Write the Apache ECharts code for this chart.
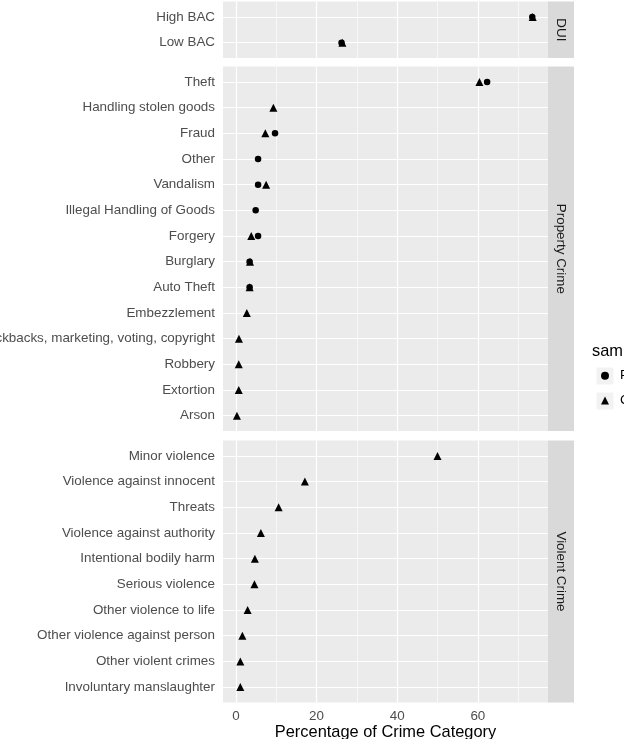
<!DOCTYPE html>
<html>
<head>
<meta charset="utf-8">
<script src="https://cdn.jsdelivr.net/npm/echarts@6/dist/echarts.min.js"></script>
<style>
  html, body { margin: 0; padding: 0; background: #fff; }
  #chart { width: 624px; height: 739px; }
</style>
</head>
<body>
<div id="chart"></div>
<script>
// categories per facet (top to bottom)
const duiCats = ['High BAC', 'Low BAC'];
const propCats = ['Theft', 'Handling stolen goods', 'Fraud', 'Other', 'Vandalism',
  'Illegal Handling of Goods', 'Forgery', 'Burglary', 'Auto Theft', 'Embezzlement',
  'Kickbacks, marketing, voting, copyright', 'Robbery', 'Extortion', 'Arson'];
const violCats = ['Minor violence', 'Violence against innocent', 'Threats',
  'Violence against authority', 'Intentional bodily harm', 'Serious violence',
  'Other violence to life', 'Other violence against person', 'Other violent crimes',
  'Involuntary manslaughter'];

// percentages, null = no point
const duiCircle = [73.5, 26.2];
const duiTriangle = [73.6, 26.4];
const propCircle = [62.3, null, 9.7, 5.5, 5.5, 4.9, 5.5, 3.4, 3.4, null, null, null, null, null];
const propTriangle = [60.4, 9.3, 7.3, null, 7.5, null, 3.8, 3.5, 3.4, 2.7, 0.75, 0.7, 0.7, 0.25];
const violTriangle = [50.0, 17.1, 10.6, 6.2, 4.7, 4.6, 2.9, 1.6, 1.1, 1.1];

const xTicks = [0, 20, 40, 60];
const xMinor = [10, 30, 50, 70];
const seriesNames = ['Police', 'Court'];
const facetNames = ['DUI', 'Property Crime', 'Violent Crime'];

const FONT = '"Liberation Sans", Arial, Helvetica, sans-serif';
const FS = 13.4;
const PANEL_L = 223, PANEL_W = 325, STRIP_W = 26;
const panels = [
  { top: 1.6, height: 56.5, cats: duiCats, circle: duiCircle, tri: duiTriangle },
  { top: 66.6, height: 364.5, cats: propCats, circle: propCircle, tri: propTriangle },
  { top: 440.5, height: 262, cats: violCats, circle: null, tri: violTriangle }
];

function toPoints(vals) {
  const out = [];
  if (!vals) return out;
  vals.forEach((v, i) => { if (v != null) out.push([v, i]); });
  return out;
}

const grid = [], xAxis = [], yAxis = [], series = [], graphic = [];

panels.forEach((p, k) => {
  const last = k === panels.length - 1;
  const idx = p.cats.map((c, i) => i);
  grid.push({
    left: PANEL_L, width: PANEL_W, top: p.top, height: p.height,
    containLabel: false, outerBoundsMode: 'none',
    show: true, backgroundColor: '#ebebeb', borderWidth: 0
  });
  xAxis.push({
    type: 'value', gridIndex: k, min: -3.2, max: 77.4,
    axisLine: { show: false },
    splitLine: { show: false },
    axisTick: { show: last, length: 4, lineStyle: { color: '#333', width: 1 }, customValues: xTicks },
    axisLabel: { show: last, margin: 7, color: '#4d4d4d', fontSize: FS, fontFamily: FONT, customValues: xTicks },
    name: last ? 'Percentage of Crime Category' : '',
    nameLocation: 'middle', nameGap: 22,
    nameTextStyle: { color: '#000', fontSize: 16.4, fontFamily: FONT }
  });
  yAxis.push({
    type: 'value', gridIndex: k, inverse: true,
    min: -0.6, max: p.cats.length - 0.4,
    axisLine: { show: false },
    splitLine: { show: false },
    axisTick: { show: true, length: 4, lineStyle: { color: '#333', width: 1 }, customValues: idx },
    axisLabel: {
      margin: 8, color: '#4d4d4d', fontSize: FS, fontFamily: FONT,
      customValues: idx, formatter: v => p.cats[Math.round(v)]
    }
  });

  // panel grid lines, kept under the points
  const lines = [];
  xTicks.forEach(v => lines.push({ xAxis: v, lineStyle: { width: 1.2 } }));
  xMinor.forEach(v => lines.push({ xAxis: v, lineStyle: { width: 0.6 } }));
  idx.forEach(v => lines.push({ yAxis: v, lineStyle: { width: 1.2 } }));
  series.push({
    type: 'scatter', xAxisIndex: k, yAxisIndex: k, data: [], silent: true, z: 1,
    markLine: {
      silent: true, symbol: 'none', label: { show: false }, z: 1,
      lineStyle: { color: '#fff', type: 'solid' },
      animation: false, data: lines
    }
  });

  if (p.circle) {
    series.push({
      name: seriesNames[0], type: 'scatter', xAxisIndex: k, yAxisIndex: k, z: 3,
      symbol: 'circle', symbolSize: 6.5, itemStyle: { color: '#000', opacity: 1 },
      data: toPoints(p.circle)
    });
  }
  series.push({
    name: seriesNames[1], type: 'scatter', xAxisIndex: k, yAxisIndex: k, z: 3,
    symbol: 'triangle', symbolSize: 8, itemStyle: { color: '#000', opacity: 1 },
    data: toPoints(p.tri)
  });

  // facet strip on the right
  graphic.push({
    type: 'rect', shape: { x: PANEL_L + PANEL_W, y: p.top, width: STRIP_W, height: p.height },
    style: { fill: '#d9d9d9' }
  });
  graphic.push({
    type: 'text', x: PANEL_L + PANEL_W + STRIP_W / 2, y: p.top + p.height / 2,
    rotation: -Math.PI / 2,
    style: {
      text: facetNames[k], fill: '#1a1a1a', fontSize: FS, fontFamily: FONT,
      align: 'center', verticalAlign: 'middle'
    }
  });
});

// legend title and key backgrounds
graphic.push({
  type: 'text', x: 592, y: 351,
  style: { text: 'sample', fill: '#000', fontSize: 16.4, fontFamily: FONT, verticalAlign: 'middle' }
});
[376, 401].forEach(cy => graphic.push({
  type: 'rect', shape: { x: 596.5, y: cy - 8.5, width: 17, height: 17 },
  style: { fill: '#f2f2f2' }
}));

const chart = echarts.init(document.getElementById('chart'));
chart.setOption({
  animation: false,
  backgroundColor: '#fff',
  grid, xAxis, yAxis, series,
  legend: {
    data: seriesNames, orient: 'vertical', left: 601, top: 369.3, padding: 0,
    itemWidth: 8, itemHeight: 8, itemGap: 11.6, selectedMode: false,
    textStyle: { color: '#000', fontSize: FS, fontFamily: FONT, padding: [0, 0, 0, 6] }
  },
  graphic: { elements: graphic }
});
</script>
</body>
</html>
